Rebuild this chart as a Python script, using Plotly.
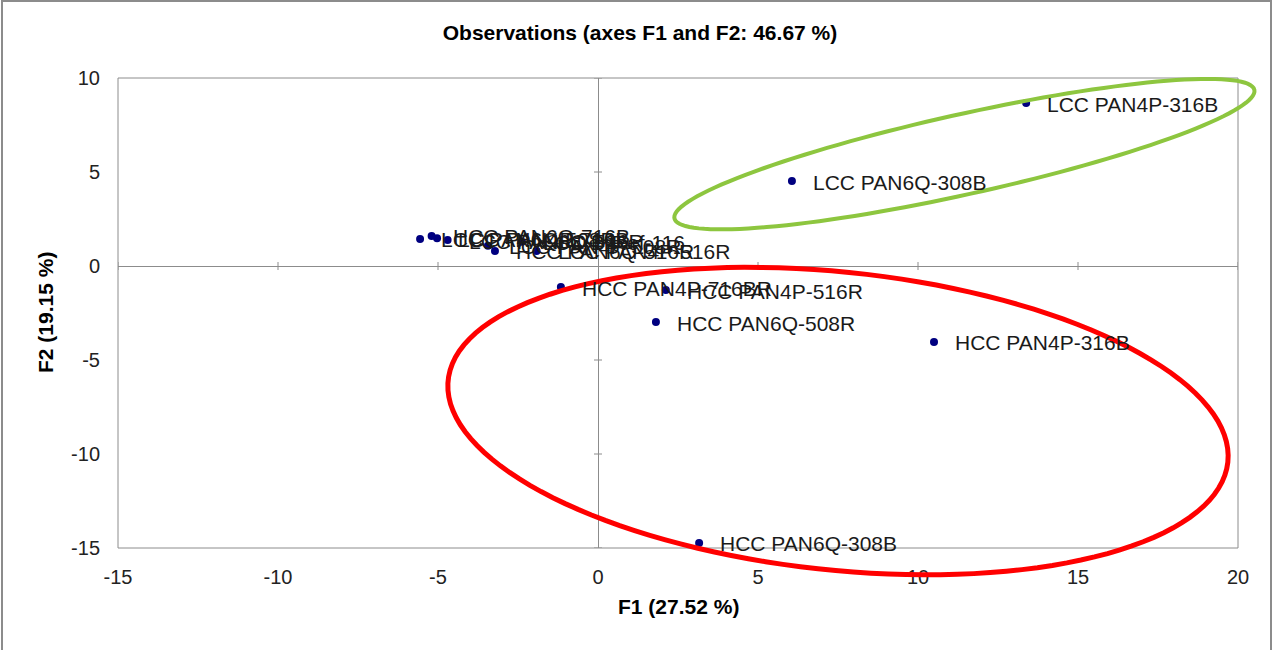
import numpy as np
import plotly.graph_objects as go

# ---------------- data ----------------
labels = [
    "LCC PAN4P-316B", "LCC PAN6Q-308B",
    "HCC PAN4P-316B", "HCC PAN6Q-508R", "HCC PAN4P-516R", "HCC PAN4P-716BR",
    "HCC PAN6Q-308B",
    "LCC PAN6Q-508R", "HCC PAN6Q-716B", "LCC PAN4P-716B", "LCC PAN6Q-516R",
    "LCC PAN4P-508R", "HCC PAN6Q-516R", "LCC B-Ref-116", "LCC PAN4P-516R",
]
f1 = [13.38, 6.06, 10.5, 1.81, 2.12, -1.16, 3.16,
      -5.56, -5.2, -5.03, -4.7, -3.44, -3.22, -2.38, -1.92]
f2 = [8.67, 4.52, -4.04, -2.98, -1.28, -1.12, -14.73,
      1.44, 1.6, 1.47, 1.38, 1.08, 0.8, 1.29, 0.8]

x_ticks = [-15, -10, -5, 0, 5, 10, 15, 20]
y_ticks = [-15, -10, -5, 0, 5, 10]
x_range = [-15, 20]
y_range = [-15, 10]

title = "Observations (axes F1 and F2: 46.67 %)"
x_title = "F1 (27.52 %)"
y_title = "F2 (19.15 %)"

# ellipse annotations (center x, center y in data units; semi-axes in px; rotation deg)
green_ellipse = dict(cx=11.45, cy=5.95, a=297, b=40, rot=-12.5)
red_ellipse = dict(cx=7.5, cy=-8.25, a=392, b=149, rot=6)

FONT = "Arial, Liberation Sans, sans-serif"

# ---------------- layout geometry ----------------
W, H = 1280, 650
ML, MR, MT, MB = 118, 42, 78, 102
pw, ph = W - ML - MR, H - MT - MB
sx = pw / (x_range[1] - x_range[0])
sy = ph / (y_range[1] - y_range[0])


def ellipse_path(cx, cy, a, b, rot, n=140):
    """Rotated ellipse, returned in paper coordinates so it is not clipped."""
    t = np.linspace(0, 2 * np.pi, n)
    r = np.deg2rad(rot)
    dx = a * np.cos(t) * np.cos(r) - b * np.sin(t) * np.sin(r)
    dy = a * np.cos(t) * np.sin(r) + b * np.sin(t) * np.cos(r)  # screen px, down positive
    px = (cx - x_range[0]) * sx + dx
    py = (cy - y_range[0]) * sy - dy
    xs = px / pw
    ys = py / ph
    pts = [f"{x:.5f},{y:.5f}" for x, y in zip(xs, ys)]
    return "M " + " L ".join(pts) + " Z"


fig = go.Figure()
fig.add_trace(go.Scatter(
    x=f1, y=f2, mode="markers",
    marker=dict(color="#000080", size=8),
    hoverinfo="skip", showlegend=False, cliponaxis=False,
))

annotations = []
for x, y, t in zip(f1, f2, labels):
    annotations.append(dict(
        x=x, y=y, xref="x", yref="y", text=t, showarrow=False,
        xanchor="left", yanchor="middle", xshift=19, yshift=-1,
        font=dict(family=FONT, size=21, color="#1a1a1a"),
    ))

annotations.append(dict(
    x=0.5, y=0, xref="paper", yref="paper", yshift=-58, text=f"<b>{x_title}</b>",
    showarrow=False, xanchor="center", yanchor="middle",
    font=dict(family=FONT, size=21, color="#000"),
))
annotations.append(dict(
    x=0, y=0.5, xref="paper", yref="paper", xshift=-73, text=f"<b>{y_title}</b>",
    showarrow=False, xanchor="center", yanchor="middle", textangle=-90,
    font=dict(family=FONT, size=21, color="#000"),
))

shapes = []
# plot-area frame
shapes.append(dict(type="rect", xref="paper", yref="paper", x0=0, y0=0, x1=1, y1=1,
                   line=dict(color="#8c8c8c", width=1), layer="below"))
# outer chart frame
shapes.append(dict(type="rect", xref="paper", yref="paper",
                   x0=(2 - ML) / pw, x1=(1271 - ML) / pw,
                   y0=-(H - MT - ph + 20) / ph, y1=1 + (MT - 1) / ph,
                   line=dict(color="#8c8c8c", width=2)))
# cross tick marks on the zero lines
for v in x_ticks:
    if v != 0:
        shapes.append(dict(type="line", xref="x", yref="y", x0=v, x1=v,
                           ysizemode="pixel", yanchor=0, y0=-4, y1=4,
                           line=dict(color="#8c8c8c", width=1)))
for v in y_ticks:
    if v != 0:
        shapes.append(dict(type="line", xref="x", yref="y", y0=v, y1=v,
                           xsizemode="pixel", xanchor=0, x0=-4, x1=4,
                           line=dict(color="#8c8c8c", width=1)))
# ellipses
shapes.append(dict(type="path", xref="paper", yref="paper", path=ellipse_path(**green_ellipse),
                   line=dict(color="#8DC63F", width=4)))
shapes.append(dict(type="path", xref="paper", yref="paper", path=ellipse_path(**red_ellipse),
                   line=dict(color="#FF0000", width=5)))

fig.update_layout(
    width=W, height=H,
    margin=dict(l=ML, r=MR, t=MT, b=MB, pad=0),
    paper_bgcolor="white", plot_bgcolor="white",
    title=dict(text=f"<b>{title}</b>", x=0.5, xanchor="center",
               y=1 - 33 / H, yanchor="middle", yref="container",
               font=dict(family=FONT, size=21, color="#000")),
    xaxis=dict(range=x_range, tickvals=x_ticks, ticktext=[str(v) for v in x_ticks],
               showgrid=False, zeroline=True,
               zerolinecolor="#8c8c8c", zerolinewidth=1, showline=False,
               ticks="outside", ticklen=11, tickcolor="rgba(0,0,0,0)",
               tickfont=dict(family=FONT, size=20, color="#222")),
    yaxis=dict(range=y_range, tickvals=y_ticks, ticktext=[str(v) for v in y_ticks],
               showgrid=False, zeroline=True,
               zerolinecolor="#8c8c8c", zerolinewidth=1, showline=False,
               ticks="outside", ticklen=13, tickcolor="rgba(0,0,0,0)",
               tickfont=dict(family=FONT, size=20, color="#222")),
    annotations=annotations,
    shapes=shapes,
)

fig.write_html("out.html")
